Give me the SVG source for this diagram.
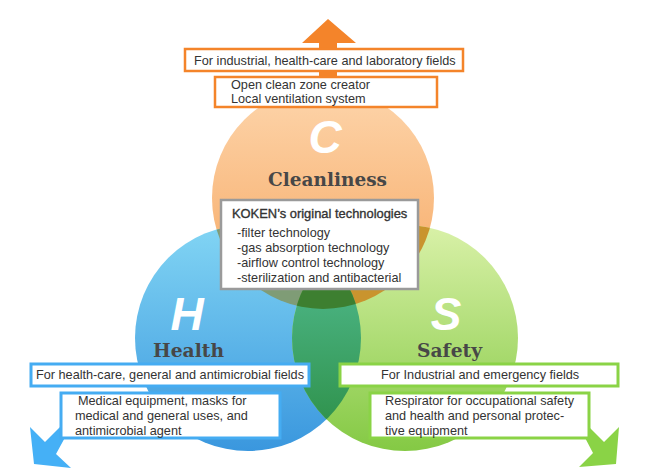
<svg xmlns="http://www.w3.org/2000/svg" width="650" height="473" viewBox="0 0 650 473">
<defs>
<style>
.t{font-family:"Liberation Sans",Arial,sans-serif;font-size:12.7px;fill:#333}
.tb{font-family:"Liberation Sans",Arial,sans-serif;font-size:12.9px;fill:#333;stroke:#333;stroke-width:0.35}
.big{font-family:"Liberation Sans",Arial,sans-serif;font-size:46px;font-weight:bold;font-style:italic;fill:#fff;text-anchor:middle}
.lbl{font-family:"DejaVu Serif","Liberation Serif",serif;font-size:18.5px;font-weight:bold;fill:#474747}
.bo{fill:#fff;stroke:#f4842a;stroke-width:2.5}
.bb{fill:#fff;stroke:#45acf2;stroke-width:3}
.bg{fill:#fff;stroke:#8ad346;stroke-width:3}
.bk{fill:#fff;stroke:#9a9a9a;stroke-width:2.5}
</style>
<linearGradient id="gO" x1="0" y1="0" x2="0" y2="1"><stop offset="0" stop-color="#fdd5ab"/><stop offset="1" stop-color="#f6a660"/></linearGradient>
<linearGradient id="gB" x1="0" y1="0" x2="0" y2="1"><stop offset="0" stop-color="#82d5f4"/><stop offset="1" stop-color="#3a97de"/></linearGradient>
<linearGradient id="gG" x1="0" y1="0" x2="0" y2="1"><stop offset="0" stop-color="#d9f1a8"/><stop offset="1" stop-color="#84c944"/></linearGradient>
<linearGradient id="gBG" x1="0" y1="0" x2="0" y2="1"><stop offset="0" stop-color="#58c39c"/><stop offset="1" stop-color="#2a8c42"/></linearGradient>
<clipPath id="cO"><circle cx="323" cy="198" r="111"/></clipPath>
<clipPath id="cB"><circle cx="248" cy="338" r="113"/></clipPath>
</defs>

<g id="connectors">
<polygon id="arrow-up" fill="#f4842a" points="328,19 356,43 337,43 337,80 319,80 319,43 302,43"/>
<polygon id="arrow-left" fill="#45b0f6" points="34,464 30,427 45,442 68,419 68,432 56,454 71,468"/>
<polygon id="arrow-right" fill="#8ad346" points="616,464 619,427 604,442 582,420 582,432 593,453 579,467"/>
</g>

<g id="circles">
<circle id="circle-C" cx="323" cy="198" r="111" fill="url(#gO)"/>
<circle id="circle-H" cx="248" cy="338" r="113" fill="url(#gB)"/>
<circle id="circle-S" cx="405" cy="338" r="113" fill="url(#gG)"/>
<circle cx="248" cy="338" r="113" fill="#7f9c76" clip-path="url(#cO)"/>
<circle cx="405" cy="338" r="113" fill="#c9942e" clip-path="url(#cO)"/>
<circle cx="405" cy="338" r="113" fill="url(#gBG)" clip-path="url(#cB)"/>
<g clip-path="url(#cO)"><circle cx="405" cy="338" r="113" fill="#3d7f30" clip-path="url(#cB)"/></g>
</g>

<g id="node-C">
<text class="big" x="325" y="153">C</text>
<text class="lbl" x="268" y="186" textLength="119" lengthAdjust="spacingAndGlyphs">Cleanliness</text>
</g>
<g id="node-H">
<text class="big" x="187" y="330">H</text>
<text class="lbl" x="153" y="357" textLength="71" lengthAdjust="spacingAndGlyphs">Health</text>
</g>
<g id="node-S">
<text class="big" x="446" y="330">S</text>
<text class="lbl" x="417" y="357" textLength="65" lengthAdjust="spacingAndGlyphs">Safety</text>
</g>

<g id="box-c-fields">
<rect class="bo" x="185" y="49" width="278" height="22"/>
<text class="t" x="194" y="65">For industrial, health-care and laboratory fields</text>
</g>
<g id="box-c-products">
<rect class="bo" x="215" y="77" width="222" height="30"/>
<text class="t" x="231" y="89">Open clean zone creator</text>
<text class="t" x="231" y="103">Local ventilation system</text>
</g>
<g id="box-koken">
<rect class="bk" x="221" y="200" width="197" height="89"/>
<text class="tb" x="232" y="218">KOKEN’s original technologies</text>
<text class="t" x="237" y="237">-filter technology</text>
<text class="t" x="237" y="252">-gas absorption technology</text>
<text class="t" x="237" y="267">-airflow control technology</text>
<text class="t" x="237" y="282">-sterilization and antibacterial</text>
</g>
<g id="box-h-fields">
<rect class="bb" x="31" y="364" width="278" height="22"/>
<text class="t" x="36" y="379">For health-care, general and antimicrobial fields</text>
</g>
<g id="box-h-products">
<rect class="bb" x="61" y="393" width="219" height="45"/>
<text class="t" x="78" y="405">Medical equipment, masks for</text>
<text class="t" x="75" y="420">medical and general uses, and</text>
<text class="t" x="75" y="435">antimicrobial agent</text>
</g>
<g id="box-s-fields">
<rect class="bg" x="340" y="364" width="278" height="22"/>
<text class="t" x="381" y="379">For Industrial and emergency fields</text>
</g>
<g id="box-s-products">
<rect class="bg" x="370" y="393" width="219" height="45"/>
<text class="t" x="385" y="405">Respirator for occupational safety</text>
<text class="t" x="385" y="420">and health and personal protec-</text>
<text class="t" x="385" y="435">tive equipment</text>
</g>
</svg>
